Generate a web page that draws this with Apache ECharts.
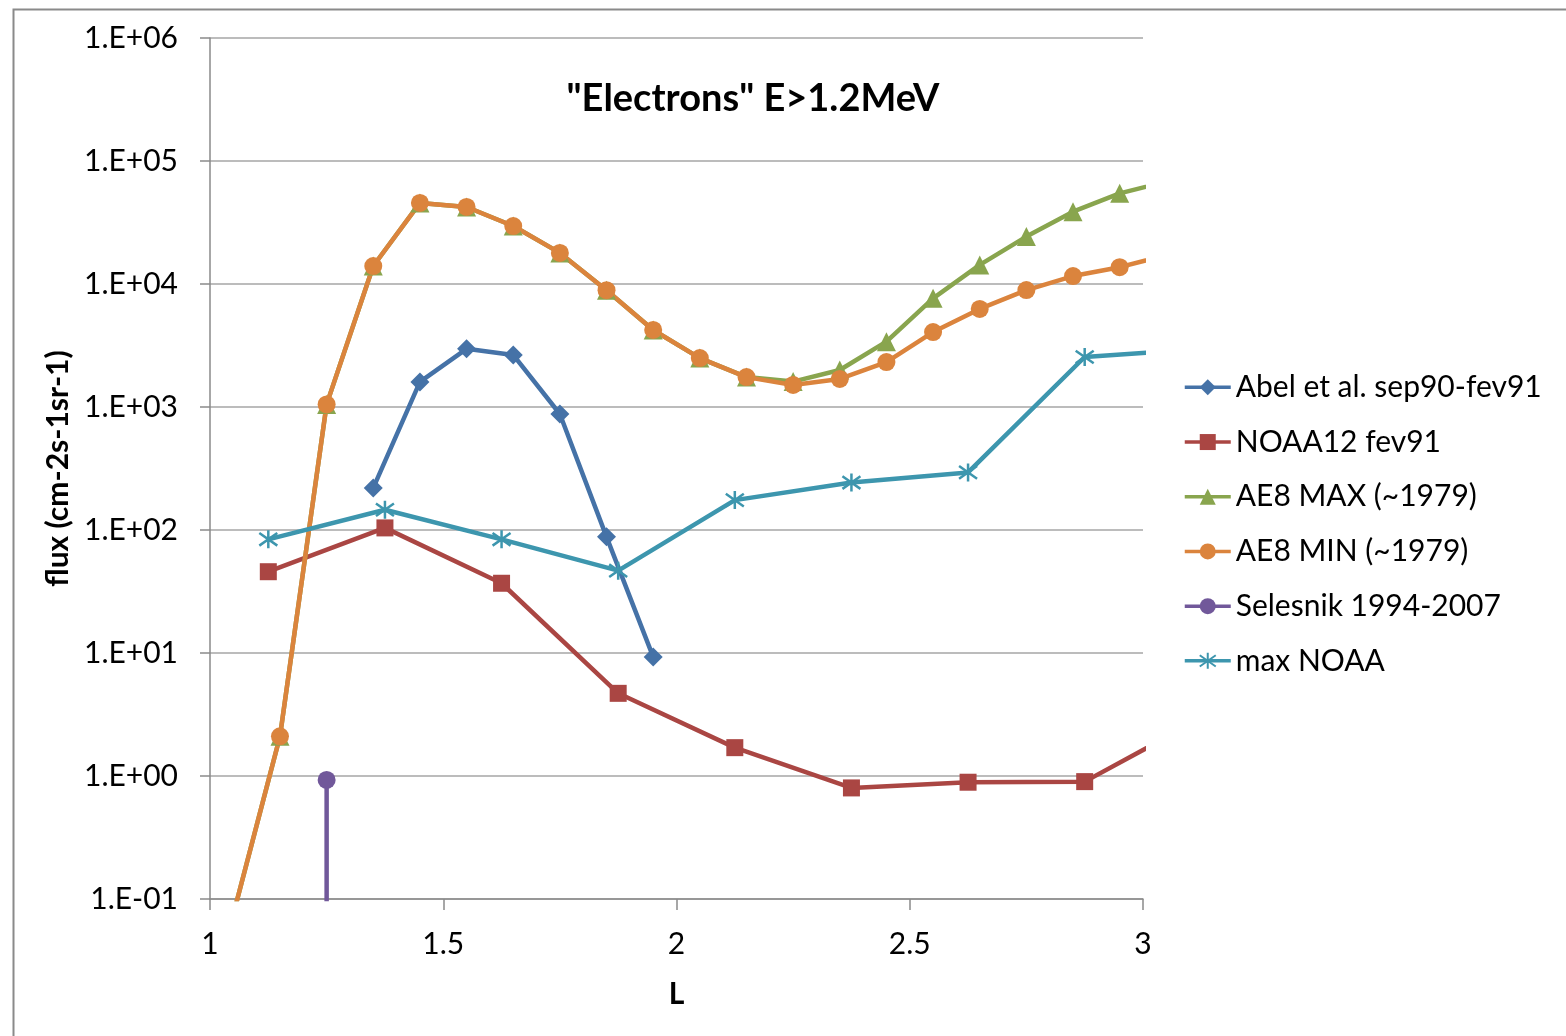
<!DOCTYPE html>
<html>
<head>
<meta charset="utf-8">
<script src="https://cdn.jsdelivr.net/npm/echarts@6/dist/echarts.min.js"></script>
<style>
  html, body { margin: 0; padding: 0; background: #fff; }
  #chart { width: 1566px; height: 1036px; }
</style>
</head>
<body>
<div id="chart"></div>
<script>
// L-shell grid of the AE8 model
const aeL = [1.05, 1.15, 1.25, 1.35, 1.45, 1.55, 1.65, 1.75, 1.85, 1.95, 2.05,
             2.15, 2.25, 2.35, 2.45, 2.55, 2.65, 2.75, 2.85, 2.95, 3.05];
const ae8Max = [0.075, 2.1, 1050, 14000, 45600, 42300, 29600, 17900, 8900, 4230, 2500,
                1750, 1610, 2000, 3400, 7650, 14300, 24300, 38700, 54600, 67900];
const ae8Min = [0.075, 2.1, 1050, 14000, 45600, 42300, 29600, 17900, 8900, 4230, 2500,
                1750, 1510, 1690, 2320, 4070, 6270, 8930, 11600, 13700, 17200];

// Abel et al. measurements
const abelL = [1.35, 1.45, 1.55, 1.65, 1.75, 1.85, 1.95];
const abelFlux = [220, 1600, 2970, 2650, 877, 88, 9.3];

// NOAA bins
const noaaL = [1.125, 1.375, 1.625, 1.875, 2.125, 2.375, 2.625, 2.875, 3.125];
const noaa12Flux = [45.8, 104, 36.9, 4.7, 1.7, 0.80, 0.89, 0.90, 2.94];
const maxNoaaFlux = [84, 146, 84, 46.7, 175, 243, 294, 2550, 2970];

// Selesnik single value (drop line to the floor)
const selesnikL = [1.25, 1.25];
const selesnikFlux = [0.93, 0.001];

const yTickLabels = ['1.E-01', '1.E+00', '1.E+01', '1.E+02', '1.E+03', '1.E+04', '1.E+05', '1.E+06'];
const xTickLabels = ['1', '1.5', '2', '2.5', '3'];

const seriesNames = ['Abel et al. sep90-fev91', 'NOAA12 fev91', 'AE8 MAX (~1979)',
                     'AE8 MIN (~1979)', 'Selesnik 1994-2007', 'max NOAA'];

const FONT = 'Lato';
const pairs = (xs, ys) => xs.map((x, i) => [x, ys[i]]);
const starPath = 'path://M10,0 L10,20 M1,3 L19,17 M1,17 L19,3';

function lineSeries(name, data, color, symbol, size, extra) {
  return Object.assign({
    name: name,
    type: 'line',
    data: data,
    clip: true,
    symbol: symbol,
    symbolSize: size,
    showAllSymbol: true,
    color: color,
    lineStyle: { color: color, width: 4.5 },
    itemStyle: { color: color },
    emphasis: { disabled: true },
    animation: false
  }, extra || {});
}

const chart = echarts.init(document.getElementById('chart'));
chart.setOption({
  backgroundColor: '#ffffff',
  animation: false,
  title: {
    text: '"Electrons" E>1.2MeV',
    left: 748,
    top: 75,
    textAlign: 'center',
    textStyle: { fontFamily: FONT, fontWeight: 'bold', fontSize: 38, color: '#000' }
  },
  graphic: [{
    type: 'rect',
    left: 11,
    top: 7,
    shape: { width: 1600, height: 1100 },
    style: { fill: 'none', stroke: '#8a8a8a', lineWidth: 2 },
    silent: true
  }],
  grid: { left: 210, right: 423, top: 38, bottom: 137, containLabel: false },
  legend: {
    orient: 'vertical',
    left: 1178,
    top: 365,
    itemWidth: 46,
    itemHeight: 20,
    itemGap: 20,
    data: seriesNames,
    lineStyle: { width: 3.5 },
    textStyle: { fontFamily: FONT, fontSize: 30, color: '#000', lineHeight: 34.7 },
    selectedMode: false
  },
  xAxis: {
    type: 'value',
    min: 1,
    max: 3,
    interval: 0.5,
    name: 'L',
    nameLocation: 'middle',
    nameGap: 80,
    nameTextStyle: { fontFamily: FONT, fontWeight: 'bold', fontSize: 30, color: '#000' },
    axisLine: { show: true, onZero: false, lineStyle: { color: '#8a8a8a', width: 1.5 } },
    axisTick: { show: true, length: 11, lineStyle: { color: '#8a8a8a', width: 1.5 } },
    axisLabel: {
      margin: 30,
      fontFamily: FONT, fontSize: 30, color: '#000',
      formatter: v => xTickLabels[Math.round((v - 1) / 0.5)]
    },
    splitLine: { show: false }
  },
  yAxis: {
    type: 'log',
    logBase: 10,
    min: 0.1,
    max: 1e6,
    name: 'flux (cm-2s-1sr-1)',
    nameLocation: 'middle',
    nameRotate: 90,
    nameGap: 133,
    nameTextStyle: { fontFamily: FONT, fontWeight: 'bold', fontSize: 30, color: '#000' },
    axisLine: { show: true, lineStyle: { color: '#8a8a8a', width: 1.5 } },
    axisTick: { show: true, length: 10, lineStyle: { color: '#8a8a8a', width: 1.5 } },
    axisLabel: {
      margin: 32,
      fontFamily: FONT, fontSize: 30, color: '#000',
      formatter: v => yTickLabels[Math.round(Math.log10(v)) + 1]
    },
    splitLine: { show: true, lineStyle: { color: '#a6a6a6', width: 1.5 } }
  },
  series: [
    lineSeries(seriesNames[0], pairs(abelL, abelFlux), '#4572a7', 'diamond', 19),
    lineSeries(seriesNames[1], pairs(noaaL, noaa12Flux), '#aa4643', 'rect', 17),
    lineSeries(seriesNames[2], pairs(aeL, ae8Max), '#89a54e', 'triangle', 19),
    lineSeries(seriesNames[3], pairs(aeL, ae8Min), '#db843d', 'circle', 18),
    lineSeries(seriesNames[4], pairs(selesnikL, selesnikFlux), '#71589a', 'circle', 18),
    lineSeries(seriesNames[5], pairs(noaaL, maxNoaaFlux), '#3d96ae', starPath, 18, {
      itemStyle: { color: 'rgba(0,0,0,0)', borderColor: '#3d96ae', borderWidth: 2.5 }
    })
  ]
});
</script>
</body>
</html>
